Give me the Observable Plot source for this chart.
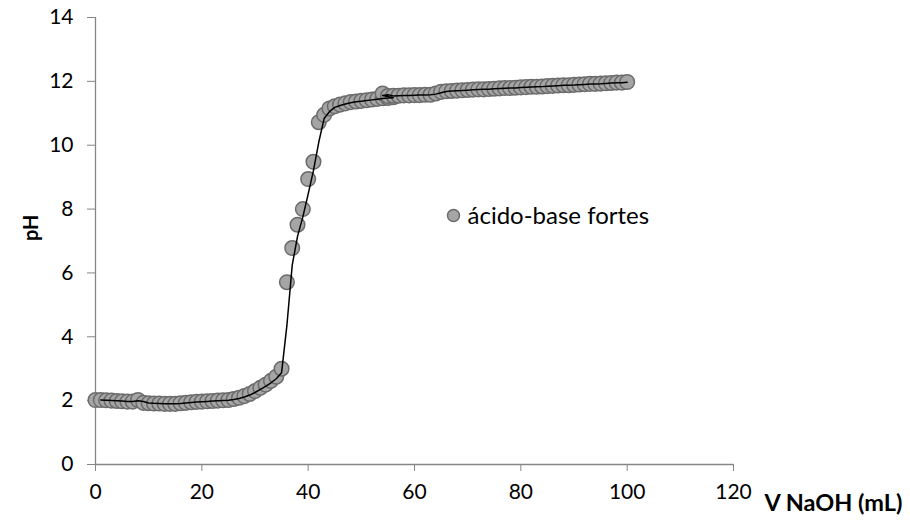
<!DOCTYPE html>
<html><head><meta charset="utf-8">
<script src="https://cdn.jsdelivr.net/npm/d3@7"></script>
<script src="https://cdn.jsdelivr.net/npm/@observablehq/plot@0.6"></script>
<style>
body{margin:0;background:#fff;}
#chart svg [aria-label^="x-axis"] line, #chart svg [aria-label^="x-axis"] path,
#chart svg [aria-label^="y-axis"] line, #chart svg [aria-label^="y-axis"] path {stroke:#868686;}
#chart svg [aria-label^="x-axis"] text, #chart svg [aria-label^="y-axis"] text {font-size:21px;}
</style></head>
<body><div id="chart"></div>
<script>
// Titration data (two runs: 0–56 mL and 54–100 mL), in recorded order
const volume = [
  0,1,2,3,4,5,6,7,8,9,10,11,12,13,14,15,16,17,18,19,20,21,22,23,24,25,26,27,28,29,
  30,31,32,33,34,35,36,37,38,39,40,41,42,43,44,45,46,47,48,49,50,51,52,53,54,55,56,
  54,55,56,57,58,59,60,61,62,63,64,65,66,67,68,69,70,71,72,73,74,75,76,77,78,79,80,
  81,82,83,84,85,86,87,88,89,90,91,92,93,94,95,96,97,98,99,100
];
const pH = [
  2.02,2.02,2.01,2.00,1.99,1.98,1.97,1.97,2.02,1.93,1.92,1.91,1.91,1.90,1.90,1.90,1.92,1.93,1.95,1.96,
  1.97,1.98,1.99,2.00,2.01,2.02,2.05,2.09,2.14,2.21,2.30,2.40,2.50,2.62,2.75,3.00,5.71,6.78,7.51,8.00,
  8.94,9.48,10.72,10.95,11.15,11.22,11.27,11.31,11.35,11.37,11.39,11.41,11.43,11.45,11.47,11.48,11.50,
  11.62,11.54,11.55,11.55,11.56,11.56,11.57,11.57,11.58,11.58,11.62,11.67,11.69,11.70,11.71,11.72,11.73,
  11.74,11.75,11.75,11.76,11.77,11.78,11.79,11.79,11.80,11.81,11.82,11.83,11.83,11.84,11.85,11.86,11.87,
  11.88,11.88,11.89,11.90,11.91,11.92,11.92,11.93,11.94,11.95,11.96,11.96,11.98
];
const xTicks = [0, 20, 40, 60, 80, 100, 120];
const yTicks = [0, 2, 4, 6, 8, 10, 12, 14];
const seriesName = "ácido-base fortes";
const xLabel = "V NaOH (mL)";
const yLabel = "pH";

const data = volume.map((v, i) => ({v, ph: pH[i]}));
const dotFill = "#a5a5a5", dotStroke = "#6b6b6b", axisGray = "#868686";

const chart = Plot.plot({
  width: 910, height: 527,
  marginLeft: 95, marginRight: 177, marginTop: 17, marginBottom: 63,
  style: {fontFamily: "Lato, 'Open Sans', sans-serif", fontSize: "21px", color: "#000", background: "#fff", overflow: "visible"},
  x: {domain: [0, 120], ticks: xTicks, tickSize: 7, tickPadding: 13, label: null, tickFormat: d => String(d)},
  y: {domain: [0, 14], ticks: yTicks, tickSize: 8, tickPadding: 14, label: null, tickFormat: d => String(d)},
  marks: [
    Plot.ruleY([0], {stroke: axisGray, strokeWidth: 1.3}),
    Plot.ruleX([0], {stroke: axisGray, strokeWidth: 1.3}),
    Plot.dot(data, {x: "v", y: "ph", r: 7.3, fill: dotFill, stroke: dotStroke, strokeWidth: 1.5}),
    Plot.line(data, Plot.windowY({k: 2, anchor: "end", strict: true}, {x: "v", y: "ph", stroke: "#000", strokeWidth: 1.5})),
    Plot.dot([seriesName], {frameAnchor: "top-left", dx: 358, dy: 198, r: 6, fill: dotFill, stroke: dotStroke, strokeWidth: 1.5}),
    Plot.text([seriesName], {text: d => d, frameAnchor: "top-left", dx: 372, dy: 199, textAnchor: "start", lineAnchor: "middle", fontSize: 24}),
    Plot.text([yLabel], {text: d => d, frameAnchor: "left", dx: -64, rotate: -90, lineAnchor: "middle", fontWeight: "bold", fontSize: 20}),
    Plot.text([xLabel], {text: d => d, frameAnchor: "bottom-right", dx: 31, dy: 39, textAnchor: "start", lineAnchor: "middle", fontWeight: "bold", fontSize: 23.5})
  ]
});
document.getElementById("chart").appendChild(chart);
</script>
</body></html>
